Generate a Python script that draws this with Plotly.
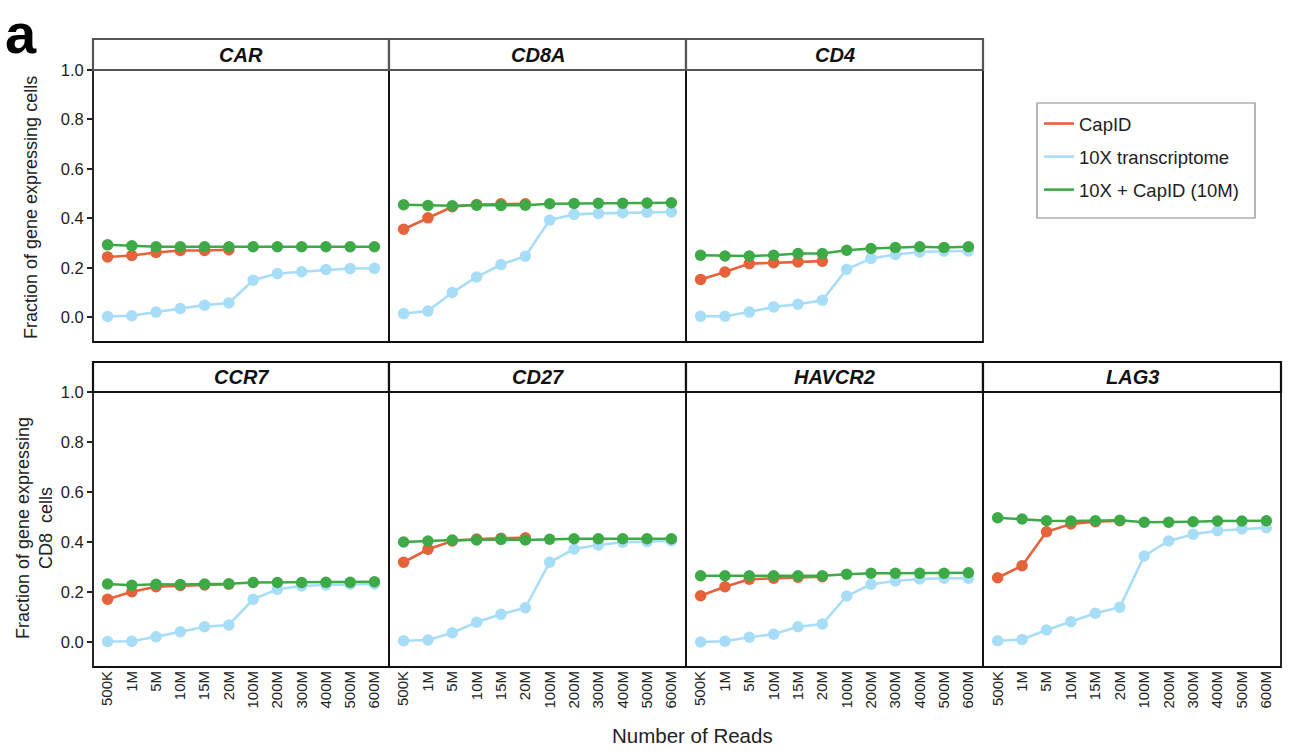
import plotly.graph_objects as go

W, H = 1290, 754

reads = ["500K", "1M", "5M", "10M", "15M", "20M", "100M", "200M", "300M", "400M", "500M", "600M"]
capid_reads = reads[:6]
genes = ["CAR", "CD8A", "CD4", "CCR7", "CD27", "HAVCR2", "LAG3"]

# CapID (only up to 20M)
capid_CAR = [0.244, 0.250, 0.262, 0.270, 0.270, 0.273]
capid_CD8A = [0.356, 0.402, 0.447, 0.456, 0.459, 0.459]
capid_CD4 = [0.153, 0.183, 0.217, 0.221, 0.224, 0.227]
capid_CCR7 = [0.171, 0.201, 0.221, 0.226, 0.228, 0.231]
capid_CD27 = [0.319, 0.371, 0.404, 0.412, 0.415, 0.417]
capid_HAVCR2 = [0.185, 0.221, 0.251, 0.255, 0.259, 0.261]
capid_LAG3 = [0.257, 0.305, 0.441, 0.472, 0.481, 0.485]

# 10X transcriptome
tx_CAR = [0.003, 0.006, 0.021, 0.035, 0.049, 0.058, 0.150, 0.177, 0.184, 0.193, 0.197, 0.198]
tx_CD8A = [0.015, 0.025, 0.100, 0.163, 0.213, 0.247, 0.393, 0.416, 0.420, 0.423, 0.425, 0.426]
tx_CD4 = [0.004, 0.004, 0.021, 0.042, 0.053, 0.069, 0.194, 0.238, 0.254, 0.264, 0.267, 0.268]
tx_CCR7 = [0.002, 0.003, 0.021, 0.041, 0.061, 0.068, 0.171, 0.211, 0.224, 0.228, 0.231, 0.232]
tx_CD27 = [0.005, 0.008, 0.037, 0.079, 0.111, 0.137, 0.319, 0.372, 0.388, 0.399, 0.401, 0.405]
tx_HAVCR2 = [0.000, 0.003, 0.019, 0.031, 0.061, 0.072, 0.184, 0.231, 0.244, 0.252, 0.255, 0.255]
tx_LAG3 = [0.005, 0.010, 0.048, 0.081, 0.115, 0.139, 0.344, 0.404, 0.431, 0.445, 0.452, 0.457]

# 10X + CapID (10M)
combo_CAR = [0.293, 0.289, 0.285, 0.285, 0.285, 0.285, 0.285, 0.285, 0.285, 0.285, 0.285, 0.285]
combo_CD8A = [0.455, 0.452, 0.451, 0.453, 0.452, 0.453, 0.459, 0.460, 0.461, 0.461, 0.462, 0.463]
combo_CD4 = [0.251, 0.248, 0.248, 0.251, 0.258, 0.258, 0.271, 0.278, 0.282, 0.285, 0.282, 0.285]
combo_CCR7 = [0.232, 0.227, 0.231, 0.230, 0.232, 0.233, 0.238, 0.238, 0.238, 0.239, 0.239, 0.241]
combo_CD27 = [0.400, 0.404, 0.408, 0.408, 0.410, 0.408, 0.411, 0.413, 0.413, 0.413, 0.413, 0.413]
combo_HAVCR2 = [0.265, 0.265, 0.265, 0.265, 0.265, 0.265, 0.271, 0.275, 0.275, 0.275, 0.275, 0.277]
combo_LAG3 = [0.497, 0.492, 0.485, 0.484, 0.485, 0.487, 0.479, 0.479, 0.481, 0.484, 0.484, 0.485]

series_names = ["CapID", "10X transcriptome", "10X + CapID (10M)"]
y_ticks = [0.0, 0.2, 0.4, 0.6, 0.8, 1.0]

capid = dict(CAR=capid_CAR, CD8A=capid_CD8A, CD4=capid_CD4, CCR7=capid_CCR7,
             CD27=capid_CD27, HAVCR2=capid_HAVCR2, LAG3=capid_LAG3)
tx = dict(CAR=tx_CAR, CD8A=tx_CD8A, CD4=tx_CD4, CCR7=tx_CCR7,
          CD27=tx_CD27, HAVCR2=tx_HAVCR2, LAG3=tx_LAG3)
combo = dict(CAR=combo_CAR, CD8A=combo_CD8A, CD4=combo_CD4, CCR7=combo_CCR7,
             CD27=combo_CD27, HAVCR2=combo_HAVCR2, LAG3=combo_LAG3)

C_ORANGE = "#E5623A"
C_BLUE = "#A8DDF8"
C_GREEN = "#3DAA47"
FONT = "Arial, Liberation Sans, sans-serif"

col_px = [(93, 389), (389, 686), (686, 983), (983, 1281)]
row_px = [(70, 342), (392, 667)]
strip_px = [(39, 70), (362, 392)]

positions = [(0, 0), (0, 1), (0, 2), (1, 0), (1, 1), (1, 2), (1, 3)]

fig = go.Figure()
shapes = []
annotations = []


def px2x(p):
    return p / W


def px2y(p):
    return 1 - p / H


for i, (g, (r, c)) in enumerate(zip(genes, positions)):
    n = i + 1
    xa = "x" if n == 1 else f"x{n}"
    ya = "y" if n == 1 else f"y{n}"
    xl = "xaxis" if n == 1 else f"xaxis{n}"
    yl = "yaxis" if n == 1 else f"yaxis{n}"
    x0, x1 = col_px[c]
    y0, y1 = row_px[r]
    fig.layout[xl] = dict(
        domain=[px2x(x0), px2x(x1)], anchor=ya, type="category",
        categoryorder="array", categoryarray=reads, range=[-0.6, 11.6],
        showgrid=False, zeroline=False, showline=False, automargin=False,
        showticklabels=(r == 1), tickangle=-90, ticks="",
        tickfont=dict(family=FONT, size=15, color="#222"),
    )
    fig.layout[yl] = dict(
        domain=[px2y(y1), px2y(y0)], anchor=xa, range=[-0.1, 1.0],
        showgrid=False, zeroline=False, showline=False, automargin=False,
        tickvals=y_ticks, tickformat=".1f",
        showticklabels=(c == 0), ticks="outside" if c == 0 else "",
        ticklen=5, tickwidth=1.5, tickcolor="#222",
        tickfont=dict(family=FONT, size=16.5, color="#222"),
    )
    fig.add_trace(go.Scatter(x=reads, y=tx[g], mode="lines+markers", xaxis=xa, yaxis=ya,
                             line=dict(color=C_BLUE, width=2.6), marker=dict(color=C_BLUE, size=11.5),
                             showlegend=False, name=series_names[1]))
    fig.add_trace(go.Scatter(x=capid_reads, y=capid[g], mode="lines+markers", xaxis=xa, yaxis=ya,
                             line=dict(color=C_ORANGE, width=2.6), marker=dict(color=C_ORANGE, size=11.5),
                             showlegend=False, name=series_names[0]))
    fig.add_trace(go.Scatter(x=reads, y=combo[g], mode="lines+markers", xaxis=xa, yaxis=ya,
                             line=dict(color=C_GREEN, width=2.6), marker=dict(color=C_GREEN, size=11.5),
                             showlegend=False, name=series_names[2]))
    # panel frame
    shapes.append(dict(type="rect", xref="paper", yref="paper",
                       x0=px2x(x0), x1=px2x(x1), y0=px2y(y1), y1=px2y(y0),
                       line=dict(color="#111", width=1.8), layer="above"))
    # strip
    s0, s1 = strip_px[r]
    shapes.append(dict(type="rect", xref="paper", yref="paper",
                       x0=px2x(x0), x1=px2x(x1), y0=px2y(s1), y1=px2y(s0),
                       line=dict(color="#555" if r == 0 else "#111", width=2.2),
                       fillcolor="white", layer="above"))
    annotations.append(dict(text=f"<b><i>{g}</i></b>", xref="paper", yref="paper",
                            x=px2x((x0 + x1) / 2), y=px2y((s0 + s1) / 2),
                            xanchor="center", yanchor="middle", showarrow=False,
                            font=dict(family=FONT, size=20, color="#111")))

# legend frame
shapes.append(dict(type="rect", xref="paper", yref="paper",
                   x0=px2x(1037), x1=px2x(1255), y0=px2y(218), y1=px2y(103),
                   line=dict(color="#888", width=1.2), fillcolor="rgba(0,0,0,0)", layer="above"))

# legend-only entries
for name, col in zip(series_names, [C_ORANGE, C_BLUE, C_GREEN]):
    fig.add_trace(go.Scatter(x=[None], y=[None], mode="lines", name=name,
                             line=dict(color=col, width=2.6), legendgroup=name))

annotations += [
    dict(text="<b>a</b>", xref="paper", yref="paper", x=px2x(3), y=px2y(0),
         xanchor="left", yanchor="top", showarrow=False,
         font=dict(family=FONT, size=56, color="#000")),
    dict(text="Fraction of gene expressing cells", xref="paper", yref="paper",
         x=px2x(31), y=px2y(208), textangle=-90, xanchor="center", yanchor="middle",
         showarrow=False, font=dict(family=FONT, size=18, color="#222")),
    dict(text="Fraction of gene expressing<br>CD8&nbsp; cells", xref="paper", yref="paper",
         x=px2x(34), y=px2y(528), textangle=-90, xanchor="center", yanchor="middle",
         showarrow=False, font=dict(family=FONT, size=18, color="#222")),
    dict(text="Number of Reads", xref="paper", yref="paper",
         x=px2x(692), y=px2y(735), xanchor="center", yanchor="middle",
         showarrow=False, font=dict(family=FONT, size=20.5, color="#222")),
]

fig.update_layout(
    width=W, height=H, margin=dict(l=0, r=0, t=0, b=0, autoexpand=False),
    paper_bgcolor="white", plot_bgcolor="white",
    shapes=shapes, annotations=annotations,
    legend=dict(x=px2x(1039), y=px2y(105), xanchor="left", yanchor="top",
                borderwidth=0, bgcolor="rgba(0,0,0,0)",
                font=dict(family=FONT, size=18.5, color="#222"),
                tracegroupgap=6, itemwidth=30),
    font=dict(family=FONT),
)

fig.write_html("out.html")
